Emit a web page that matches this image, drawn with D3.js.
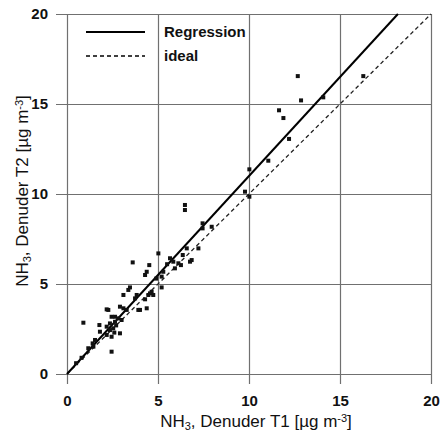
<!DOCTYPE html>
<html>
<head>
<meta charset="utf-8">
<script src="https://cdn.jsdelivr.net/npm/d3@7"></script>
<style>
  body { margin: 0; background: #fff; }
  text { font-family: "Liberation Sans", Arial, sans-serif; }
</style>
</head>
<body>
<div id="chart"></div>
<script>
// ticks on both axes
var xTicks = [0, 5, 10, 15, 20];
var yTicks = [0, 5, 10, 15, 20];

var t1 = [16.28, 12.68, 12.86, 14.08, 11.65, 11.89, 12.2, 11.06, 10.02, 9.78, 10.02,
  6.48, 6.48, 7.45, 7.45, 7.95, 6.58, 7.22, 6.85, 6.36, 6.26, 6.76,
  5.02, 3.61, 4.52, 4.38, 4.29, 5.66, 5.84, 6.12, 5.93, 5.29, 5.2, 5.2,
  3.46, 3.37, 3.1, 4.65, 4.47, 3.74, 4.29, 3.92, 4.38, 3.1, 3.28,
  3.83, 4.56, 2.27, 2.91, 4.01, 2.45, 2.64, 2.82, 0.9, 1.78, 2.18, 2.36, 2.54, 2.18, 2.45,
  2.91, 1.41, 1.54, 1.17, 2.45, 1.81, 2.18, 2.36, 2.64, 1.45, 4.74, 4.9, 5.5, 2.7, 2.6,
  3.0, 0.5, 0.8];
var t2 = [16.55, 16.55, 15.2, 15.37, 14.65, 14.22, 13.06, 11.85, 11.37, 10.13, 9.85,
  9.39, 9.11, 8.37, 8.09, 8.18, 6.98, 6.98, 6.33, 6.61, 6.05, 6.24,
  6.7, 6.2, 6.05, 5.68, 5.5, 6.43, 6.24, 6.15, 5.87, 5.68, 5.41, 4.81,
  4.81, 4.67, 4.39, 4.57, 4.39, 4.2, 4.15, 3.56, 3.65, 3.65, 3.56,
  4.39, 4.48, 3.56, 3.74, 3.56, 3.18, 2.9, 3.09, 2.85, 2.72, 2.63, 2.44, 2.54, 2.17, 2.07,
  2.26, 1.7, 1.89, 1.43, 1.24, 2.35, 3.59, 2.81, 3.18, 1.52, 4.39, 5.3, 6.1, 2.7, 2.3,
  3.0, 0.6, 0.9];

var regSlope = 1.1;
var legendItems = ["Regression", "ideal"];

var width = 441;
var height = 436;
// plot box in pixels
var pLeft = 67, pRight = 431, pTop = 14, pBottom = 374;

var svg = d3.select("#chart")
  .append("svg")
  .attr("width", width)
  .attr("height", height);

var xScale = d3.scaleLinear().domain([0, 20]).range([pLeft, pRight]);
var yScale = d3.scaleLinear().domain([0, 20]).range([pBottom, pTop]);

// grid + tick labels, lines stick out 10px past the plot
var yAxis = svg.append("g")
  .attr("transform", "translate(" + (pLeft - 11) + ",0)")
  .call(d3.axisLeft(yScale).tickValues(yTicks).tickSize(-(pRight - pLeft + 11)).tickPadding(8));

var xAxis = svg.append("g")
  .attr("transform", "translate(0," + (pBottom + 10) + ")")
  .call(d3.axisBottom(xScale).tickValues(xTicks).tickSize(-(pBottom - pTop + 10)).tickPadding(11));

[xAxis, yAxis].forEach(function(a) {
  a.select(".domain").remove();
  a.selectAll("line").attr("stroke", "#707070").attr("stroke-width", 1.2);
  a.selectAll("text")
    .attr("fill", "#111")
    .style("font-size", "15px")
    .style("font-weight", "bold")
    .style("font-family", "'Liberation Sans', Arial, sans-serif");
});

// ideal 1:1 line
svg.append("line")
  .attr("x1", xScale(0)).attr("y1", yScale(0))
  .attr("x2", xScale(20)).attr("y2", yScale(20))
  .attr("stroke", "#222")
  .attr("stroke-width", 1.3)
  .attr("stroke-dasharray", "4,3");

// regression line
svg.append("line")
  .attr("x1", xScale(0)).attr("y1", yScale(0))
  .attr("x2", xScale(20 / regSlope)).attr("y2", yScale(20))
  .attr("stroke", "#000")
  .attr("stroke-width", 2);

// points
var pts = t1.map(function(v, i) { return [v, t2[i]]; });
svg.selectAll(".pt")
  .data(pts)
  .enter().append("rect")
  .attr("class", "pt")
  .attr("x", function(d) { return xScale(d[0]) - 2; })
  .attr("y", function(d) { return yScale(d[1]) - 2; })
  .attr("width", 4)
  .attr("height", 4)
  .attr("fill", "#111");

// legend
var legend = svg.selectAll(".legend")
  .data(legendItems)
  .enter().append("g")
  .attr("class", "legend")
  .attr("transform", function(d, i) { return "translate(86," + (32 + i * 24) + ")"; });

legend.append("line")
  .attr("x1", 0).attr("x2", 59)
  .attr("stroke", "#000")
  .attr("stroke-width", function(d, i) { return i == 0 ? 2 : 1.3; })
  .attr("stroke-dasharray", function(d, i) { return i == 0 ? null : "4,3"; });

legend.append("text")
  .attr("x", 78)
  .attr("dy", "0.35em")
  .style("font-size", "15px")
  .style("font-weight", "bold")
  .attr("fill", "#111")
  .text(function(d) { return d; });

// axis titles
function axisTitle(sel, which) {
  sel.append("tspan").text("NH");
  sel.append("tspan").attr("baseline-shift", "-25%").style("font-size", "11px").text("3");
  sel.append("tspan").text(", Denuder " + which + " [\u00b5g m");
  sel.append("tspan").attr("baseline-shift", "45%").style("font-size", "11px").text("-3");
  sel.append("tspan").text("]");
}

svg.append("text")
  .attr("x", 256)
  .attr("y", 427)
  .attr("text-anchor", "middle")
  .style("font-size", "17px")
  .attr("fill", "#111")
  .call(axisTitle, "T1");

svg.append("text")
  .attr("transform", "translate(28,191) rotate(-90)")
  .attr("text-anchor", "middle")
  .style("font-size", "17px")
  .attr("fill", "#111")
  .call(axisTitle, "T2");
</script>
</body>
</html>
